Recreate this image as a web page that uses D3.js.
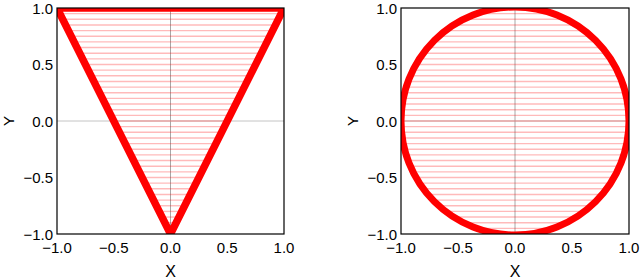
<!DOCTYPE html>
<html><head><meta charset="utf-8">
<script src="https://cdn.jsdelivr.net/npm/d3@7/dist/d3.min.js"></script>
<style>body{margin:0;background:#fff}svg{display:block}</style>
</head><body>
<svg id="c" width="641" height="280"></svg>
<script>
const xTicks = [-1.0, -0.5, 0.0, 0.5, 1.0];
const yTicks = [-1.0, -0.5, 0.0, 0.5, 1.0];
const triangleVertices = [[-1, 1], [1, 1], [0, -1]];
const circleCenter = [0, 0];
const circleRadius = 1;
const hatchLevels = [-1.00,-0.95,-0.90,-0.85,-0.80,-0.75,-0.70,-0.65,-0.60,-0.55,-0.50,-0.45,-0.40,-0.35,-0.30,-0.25,-0.20,-0.15,-0.10,-0.05,
  0.00,0.05,0.10,0.15,0.20,0.25,0.30,0.35,0.40,0.45,0.50,0.55,0.60,0.65,0.70,0.75,0.80,0.85,0.90,0.95,1.00];

const svg = d3.select("#c");
const fmt = d => (d < 0 ? "\u2212" : "") + Math.abs(d).toFixed(1);
const font = "'Liberation Sans', Arial, sans-serif";

function panel(left, right, top, bottom, id, shape) {
  const x = d3.scaleLinear().domain([-1, 1]).range([left, right]);
  const y = d3.scaleLinear().domain([-1, 1]).range([bottom, top]);
  const g = svg.append("g");
  g.append("clipPath").attr("id", id).append("rect")
    .attr("x", left).attr("y", top).attr("width", right - left).attr("height", bottom - top);
  const inner = g.append("g").attr("clip-path", `url(#${id})`);
  // grid lines
  inner.append("line").attr("x1", x(0)).attr("x2", x(0)).attr("y1", top).attr("y2", bottom)
    .attr("stroke", "#a8a8a8").attr("stroke-width", 1);
  inner.append("line").attr("x1", left).attr("x2", right).attr("y1", y(0)).attr("y2", y(0))
    .attr("stroke", "#c4c4c4").attr("stroke-width", 1);
  // hatch
  const halfWidth = shape === "tri"
    ? (v => {
        const [a, b, c] = triangleVertices;
        const t = (v - c[1]) / (a[1] - c[1]);
        return Math.abs((a[0] - c[0]) * t);
      })
    : (v => Math.sqrt(Math.max(0, circleRadius * circleRadius - (v - circleCenter[1]) ** 2)));
  inner.selectAll("line.h").data(hatchLevels).join("line").attr("class", "h")
    .attr("x1", v => x(circleCenter[0] - halfWidth(v)))
    .attr("x2", v => x(circleCenter[0] + halfWidth(v)))
    .attr("y1", v => y(v)).attr("y2", v => y(v))
    .attr("stroke", "rgba(255,0,0,0.27)").attr("stroke-width", 1.4);
  // outline
  if (shape === "tri") {
    inner.append("path")
      .attr("d", d3.line().x(d => x(d[0])).y(d => y(d[1])).curve(d3.curveLinearClosed)(triangleVertices))
      .attr("fill", "none").attr("stroke", "#ff0000").attr("stroke-width", 7.5).attr("stroke-linejoin", "round");
  } else {
    inner.append("circle").attr("cx", x(circleCenter[0])).attr("cy", y(circleCenter[1]))
      .attr("r", x(circleRadius) - x(0))
      .attr("fill", "none").attr("stroke", "#ff0000").attr("stroke-width", 7);
  }
  // frame
  g.append("rect").attr("x", left).attr("y", top).attr("width", right - left).attr("height", bottom - top)
    .attr("fill", "none").attr("stroke", "#000").attr("stroke-width", 1.2);
  // tick labels
  g.selectAll("text.xt").data(xTicks).join("text").attr("class", "xt")
    .attr("x", d => x(d)).attr("y", bottom + 19).attr("text-anchor", "middle")
    .attr("font-family", font).attr("font-size", 15).text(fmt);
  g.selectAll("text.yt").data(yTicks).join("text").attr("class", "yt")
    .attr("x", left - 4).attr("y", d => y(d) + 5.5).attr("text-anchor", "end")
    .attr("font-family", font).attr("font-size", 15).text(fmt);
  g.append("text").attr("x", (left + right) / 2).attr("y", bottom + 43).attr("text-anchor", "middle")
    .attr("font-family", font).attr("font-size", 16).text("X");
  g.append("text").attr("transform", `translate(${left - 43},${(top + bottom) / 2}) rotate(-90)`)
    .attr("text-anchor", "middle").attr("font-family", font).attr("font-size", 15).text("Y");
}
panel(57, 284, 8, 234, "clipA", "tri");
panel(401, 629, 8, 234, "clipB", "circ");
</script>
</body></html>
